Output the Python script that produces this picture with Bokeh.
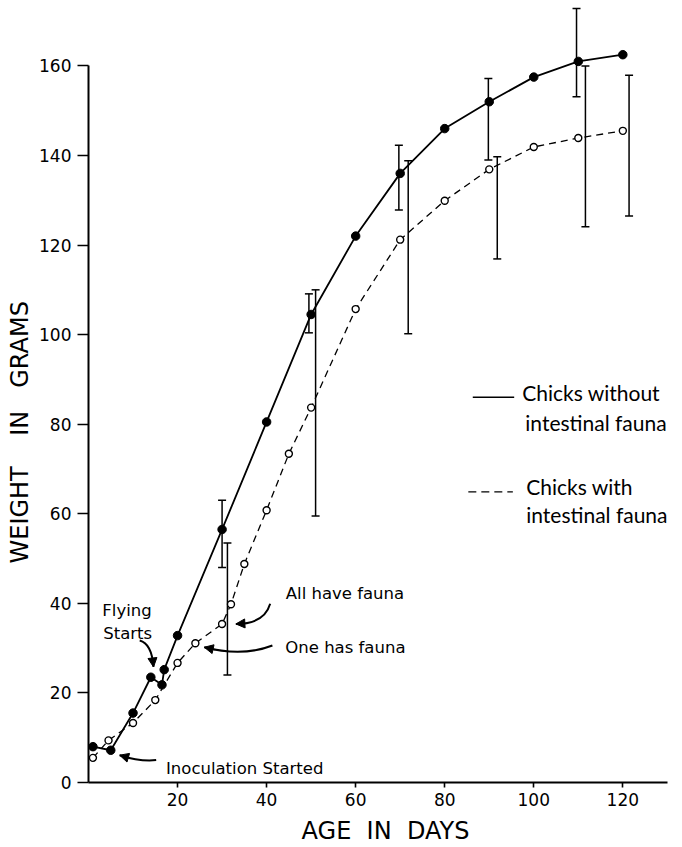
import numpy as np
from bokeh.plotting import figure
from bokeh.models import (Range1d, FixedTicker, Whisker, TeeHead, ColumnDataSource,
                          Arrow, NormalHead, Title)
from bokeh.core.properties import value
from bokeh.embed import file_html
from bokeh.resources import INLINE

# ---------------- data ----------------
days_without = [1, 5, 10, 14, 16.5, 17, 20, 30, 40, 50, 60, 70, 80, 90, 100, 110, 120]
weight_without = [8, 7.2, 15.5, 23.5, 21.8, 25.2, 32.8, 56.5, 80.5, 104.5, 122, 136, 146, 152, 157.5, 161, 162.5]

days_with = [1, 4.5, 10, 15, 20, 24, 30, 32, 35, 40, 45, 50, 60, 70, 80, 90, 100, 110, 120]
weight_with = [5.5, 9.4, 13.3, 18.4, 26.7, 31.1, 35.4, 39.8, 48.8, 60.8, 73.4, 83.7, 105.7, 121.2, 129.9, 136.9, 141.9, 143.9, 145.5]

err_days_without = [30, 49.5, 69.7, 89.8, 109.6]
err_low_without = [48, 100.4, 127.8, 139, 153.1]
err_high_without = [63, 109.1, 142.3, 157.2, 172.8]

err_days_with = [31.2, 51, 71.8, 91.8, 111.6, 121.4]
err_low_with = [24, 59.5, 100.2, 116.9, 124.1, 126.5]
err_high_with = [53.5, 110, 138.8, 139.7, 160, 157.9]

x_ticks = [20, 40, 60, 80, 100, 120]
y_ticks = [0, 20, 40, 60, 80, 100, 120, 140, 160]

# annotations: text, x, y (data units)
note_text = ["Flying", "Starts", "All have fauna", "One has fauna", "Inoculation Started"]
note_x = [3.1, 3.3, 44.3, 44.2, 17.4]
note_y = [38.4, 33.2, 42.1, 30.2, 3.1]

# annotation arrows: start, control, end (data units)
arr_x0 = [11.5, 40.8, 41.3, 15.2]
arr_y0 = [31.7, 39.9, 30.6, 5.0]
arr_cx = [14.2, 39.5, 34.6, 11.7]
arr_cy = [31.0, 35.4, 28.0, 4.6]
arr_x1 = [14.6, 33.1, 26.0, 7.0]
arr_y1 = [25.8, 35.4, 30.2, 6.1]

# legend
legend_text = ["Chicks without", "intestinal fauna", "Chicks with", "intestinal fauna"]
legend_tx = [97.4, 98.1, 98.3, 98.3]
legend_ty = [87.0, 80.3, 66.1, 59.9]
legend_line_x = [[86.3, 95.6], [85.3, 95.3]]
legend_line_y = [[86.0, 86.0], [64.9, 64.9]]

x_label = "AGE\u00a0\u00a0IN\u00a0\u00a0DAYS"
y_label = "WEIGHT\u00a0\u00a0\u00a0\u00a0IN\u00a0\u00a0\u00a0GRAMS"

FONT = "DejaVu Sans"

p = figure(width=682, height=847, output_backend="svg", toolbar_location=None,
           x_range=Range1d(0, 133.4), y_range=Range1d(0, 174.6),
           min_border_left=86, min_border_right=0, min_border_top=0, min_border_bottom=63)
p.outline_line_color = None
p.grid.visible = False
p.background_fill_color = "white"
p.border_fill_color = "white"

for ax, bnds, ticks in ((p.xaxis[0], (0, 130), x_ticks), (p.yaxis[0], (0, 160), y_ticks)):
    ax.bounds = bnds
    ax.ticker = FixedTicker(ticks=ticks)
    ax.axis_line_width = 2
    ax.axis_line_color = "black"
    ax.major_tick_line_width = 1.6
    ax.major_tick_line_color = "black"
    ax.minor_tick_line_color = None
    ax.major_tick_in = 0
    ax.major_label_text_font = FONT
    ax.major_label_text_font_size = "17px"
    ax.major_label_text_color = "black"
    ax.axis_label_text_font = FONT
    ax.axis_label_text_font_size = "24px"
    ax.axis_label_text_font_style = "normal"
    ax.axis_label_text_color = "black"

p.xaxis.major_tick_out = 5
p.xaxis.major_label_standoff = 5
p.xaxis.axis_label = x_label
p.xaxis.axis_label_standoff = 8
p.yaxis.major_tick_out = 11
p.yaxis.major_label_standoff = 6

# y-axis title, positioned along the drawn axis extent
p.add_layout(Title(text=y_label, align="left", offset=219, standoff=6,
                   text_font=FONT, text_font_size="24px", text_font_style="normal",
                   text_color="black"), "left")

# error bars
for bx, lo, hi in ((err_days_without, err_low_without, err_high_without),
                   (err_days_with, err_low_with, err_high_with)):
    src = ColumnDataSource(dict(base=bx, lower=lo, upper=hi))
    p.add_layout(Whisker(base="base", lower="lower", upper="upper", source=src,
                         dimension="height", line_width=1.5, line_color="black",
                         upper_head=TeeHead(size=8, line_width=1.5, line_color="black"),
                         lower_head=TeeHead(size=8, line_width=1.5, line_color="black")))

# series
p.line(days_without, weight_without, line_color="black", line_width=1.8)
p.line(days_with, weight_with, line_color="black", line_width=1.3, line_dash="7 5")
p.scatter(days_without, weight_without, size=8.5, marker="circle",
          fill_color="black", line_color="black")
p.scatter(days_with, weight_with, size=7, marker="circle",
          fill_color="white", line_color="black", line_width=1.4)

# annotation text
p.text(x=note_x, y=note_y, text=note_text, text_font=value(FONT),
       text_font_size="16.5px", text_color="black", text_align="left",
       text_baseline="alphabetic")

# annotation arrows
p.quadratic(x0=arr_x0, y0=arr_y0, x1=arr_x1, y1=arr_y1, cx=arr_cx, cy=arr_cy,
            line_color="black", line_width=2)
for x0, y0, cx, cy, x1, y1 in zip(arr_x0, arr_y0, arr_cx, arr_cy, arr_x1, arr_y1):
    t = 0.85
    hx = (1 - t) ** 2 * x0 + 2 * (1 - t) * t * cx + t ** 2 * x1
    hy = (1 - t) ** 2 * y0 + 2 * (1 - t) * t * cy + t ** 2 * y1
    p.add_layout(Arrow(end=NormalHead(size=9, fill_color="black", line_color="black"),
                       x_start=hx, y_start=hy, x_end=x1, y_end=y1,
                       line_width=1.5, line_color="black"))

# legend
p.line(legend_line_x[0], legend_line_y[0], line_color="black", line_width=1.6)
p.line(legend_line_x[1], legend_line_y[1], line_color="black", line_width=1.4, line_dash="8 5")
p.text(x=legend_tx, y=legend_ty, text=legend_text, text_font=value("Lato"),
       text_font_size="21px", text_color="black", text_align="left",
       text_baseline="alphabetic")

open("out.html", "w").write(file_html(p, INLINE))
